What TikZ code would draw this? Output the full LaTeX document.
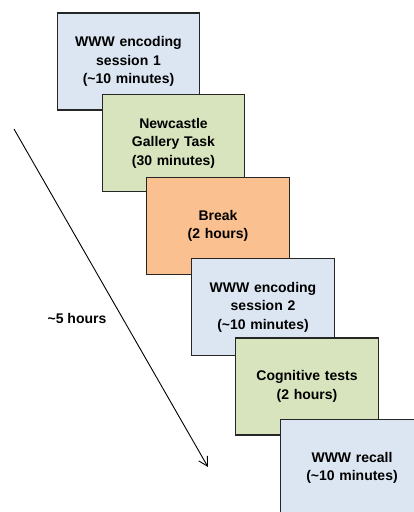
\documentclass[tikz,border=0pt]{standalone}
\usepackage{fontspec}
\setmainfont{Liberation Sans}
\usepackage{tikz}
\usetikzlibrary{positioning, calc, arrows.meta}
\tikzstyle{Arrow} = [
%thin line, open tip
line width = 0.9pt,
-{Straight Barb[length=9pt, width=10pt, line width=0.9pt]}
]
\definecolor{encodeblue}{HTML}{DCE6F2}
\definecolor{taskgreen}{HTML}{D7E4BD}
\definecolor{breakorange}{HTML}{FAC090}

\begin{document}
\begin{tikzpicture}[x=1pt, y=-1pt,
					      stage/.style = {rectangle, line width = 1.2pt, draw = black!85, text centered,
					                      minimum width = 141pt, minimum height = 97pt, text width = 136pt,
					                      font = \fontsize{14}{18.5}\selectfont\bfseries},
					      encoding/.style = {stage, fill = encodeblue},
					      gallery/.style = {stage, fill = taskgreen},
					      rest/.style = {stage, fill = breakorange},
				      ]
				      \useasboundingbox (0,0) rectangle (414,512);
				      \clip (0,0) rectangle (414,512);
				      \node[encoding](S1) at (128.5,61.5){WWW encoding\\session 1\\(\textasciitilde10 minutes)};
				      \node[gallery](NG) at (173.5,143){Newcastle\\Gallery Task\\(30 minutes)};
				      \node[rest](BR) at (218,226){Break\\(2 hours)};
				      \node[encoding](S2) at (263,307){WWW encoding\\session 2\\(\textasciitilde10 minutes)};
				      \node[gallery](CT) at (307,386.5){Cognitive tests\\(2 hours)};
				      \node[encoding](RC) at (352,468){WWW recall\\(\textasciitilde10 minutes)};

				      \coordinate(T0) at (14,129);
				      \coordinate(T1) at (208,467);
				      \draw[Arrow](T0)--(T1);
				      \node[font = \fontsize{14}{16}\selectfont\bfseries](TL) at (77,318){\textasciitilde5 hours};
			      \end{tikzpicture}
\end{document}
